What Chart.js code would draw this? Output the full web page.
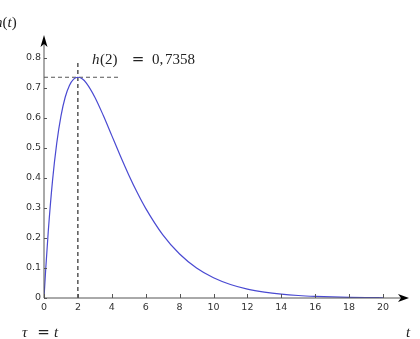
<!DOCTYPE html>
<html>
<head>
<meta charset="utf-8">
<script src="https://cdn.jsdelivr.net/npm/chart.js@4/dist/chart.umd.min.js"></script>
<style>
  html, body { margin: 0; padding: 0; background: #fff; }
  #wrap { width: 420px; height: 339px; position: relative; }
</style>
</head>
<body>
<div id="wrap"><canvas id="hChart" width="420" height="339"></canvas></div>
<script>
// curve h(t), values
var tValues = [0, 0.1, 0.25, 0.5, 0.75, 1, 1.25, 1.5, 1.75, 2, 2.25, 2.5, 3, 3.5, 4, 4.5, 5, 5.5, 6, 7, 8, 9, 10, 11, 12, 13, 14, 15, 16, 17, 18, 19, 20];
var hValues = [0, 0.095, 0.2206, 0.3894, 0.5155, 0.6065, 0.6691, 0.7085, 0.7296, 0.7358, 0.7306, 0.7163, 0.6694, 0.6082, 0.5413, 0.4743, 0.4104, 0.3515, 0.2987, 0.2113, 0.1465, 0.1000, 0.0674, 0.0450, 0.0297, 0.0196, 0.0128, 0.0083, 0.0054, 0.0035, 0.0022, 0.0014, 0.0009];

// peak marker
var peakT = 2;
var peakH = 0.7358;
var hLineEnd = 4.5;
var vLineTop = 0.79;

var xTicks = [0, 2, 4, 6, 8, 10, 12, 14, 16, 18, 20];
var yTicks = [0, 0.1, 0.2, 0.3, 0.4, 0.5, 0.6, 0.7, 0.8];

var curve = tValues.map(function (t, i) { return { x: t, y: hValues[i] }; });

// axes with arrowheads, inward tick marks and the math labels
var decorations = {
  id: 'decorations',
  afterDraw: function (chart) {
    var ctx = chart.ctx;
    var xs = chart.scales.x, ys = chart.scales.y;
    var x0 = xs.getPixelForValue(0), y0 = ys.getPixelForValue(0);
    ctx.save();
    ctx.strokeStyle = '#555';
    ctx.lineWidth = 1;
    ctx.beginPath();
    ctx.moveTo(x0, y0); ctx.lineTo(402, y0);
    ctx.moveTo(x0, y0); ctx.lineTo(x0, 42);
    ctx.stroke();
    // tick marks
    ctx.beginPath();
    xTicks.forEach(function (v) {
      var px = Math.round(xs.getPixelForValue(v)) + 0.5;
      ctx.moveTo(px, y0); ctx.lineTo(px, y0 - 4);
    });
    yTicks.forEach(function (v) {
      var py = Math.round(ys.getPixelForValue(v)) + 0.5;
      ctx.moveTo(x0, py); ctx.lineTo(x0 + 3, py);
    });
    ctx.stroke();
    // arrowheads
    ctx.fillStyle = '#000';
    ctx.beginPath();
    ctx.moveTo(409, y0); ctx.lineTo(398, y0 - 4); ctx.lineTo(401, y0); ctx.lineTo(398, y0 + 4);
    ctx.closePath(); ctx.fill();
    ctx.beginPath();
    ctx.moveTo(x0, 35); ctx.lineTo(x0 - 3.5, 47); ctx.lineTo(x0, 44); ctx.lineTo(x0 + 3.5, 47);
    ctx.closePath(); ctx.fill();

    // math text, each piece placed on its own
    ctx.fillStyle = '#222';
    ctx.textBaseline = 'middle';
    function piece(txt, italic, x, y) {
      ctx.font = (italic ? 'italic ' : '') + '15px "Liberation Serif", "DejaVu Serif", serif';
      ctx.fillText(txt, x, y);
      return x + ctx.measureText(txt).width;
    }
    function equals(cx, y) {
      ctx.font = '15px "DejaVu Serif", serif';
      ctx.textAlign = 'center';
      ctx.fillText('=', cx, y);
      ctx.textAlign = 'left';
    }
    var px = piece('h', true, 92, 60);
    piece('(2)', false, px + 0.5, 60);
    equals(138, 60);
    piece('0,', false, 152, 60);
    piece('7358', false, 165, 60);

    px = piece('h', true, -5, 23);
    px = piece('(', false, px, 23);
    px = piece('t', true, px, 23);
    piece(')', false, px, 23);

    piece('\u03c4', true, 22, 333);
    equals(43.5, 333);
    piece('t', true, 54, 333);
    piece('t', true, 406, 333);
    ctx.restore();
  }
};

new Chart(document.getElementById('hChart'), {
  type: 'scatter',
  data: {
    datasets: [
      {
        data: curve,
        showLine: true,
        borderColor: '#4a4ad2',
        borderWidth: 1.2,
        pointRadius: 0,
        cubicInterpolationMode: 'monotone',
        fill: false
      },
      {
        data: [{ x: 0, y: peakH }, { x: hLineEnd, y: peakH }],
        showLine: true,
        borderColor: '#555',
        borderWidth: 1,
        borderDash: [4, 3],
        pointRadius: 0
      },
      {
        data: [{ x: peakT, y: 0 }, { x: peakT, y: vLineTop }],
        showLine: true,
        borderColor: '#000',
        borderWidth: 1,
        borderDash: [4, 3],
        pointRadius: 0
      }
    ]
  },
  options: {
    responsive: false,
    animation: false,
    layout: { padding: { left: 0, right: 37, top: 58, bottom: 0 } },
    plugins: { legend: { display: false }, tooltip: { enabled: false } },
    scales: {
      x: {
        type: 'linear',
        min: 0,
        max: 20,
        grid: { display: false, drawTicks: false },
        border: { display: false },
        afterBuildTicks: function (scale) { scale.ticks = xTicks.map(function (v) { return { value: v }; }); },
        afterFit: function (scale) { scale.height = 41; },
        ticks: { color: '#333', font: { family: '"DejaVu Sans", sans-serif', size: 9.5 }, padding: 4, maxRotation: 0 }
      },
      y: {
        min: 0,
        max: 0.8,
        grid: { display: false, drawTicks: false },
        border: { display: false },
        afterBuildTicks: function (scale) { scale.ticks = yTicks.map(function (v) { return { value: v }; }); },
        afterFit: function (scale) { scale.width = 44; },
        ticks: {
          color: '#333',
          font: { family: '"DejaVu Sans", sans-serif', size: 9.5 },
          padding: 3,
          callback: function (v) { return v === 0 ? '0' : v.toFixed(1); }
        }
      }
    }
  },
  plugins: [decorations]
});
</script>
</body>
</html>
